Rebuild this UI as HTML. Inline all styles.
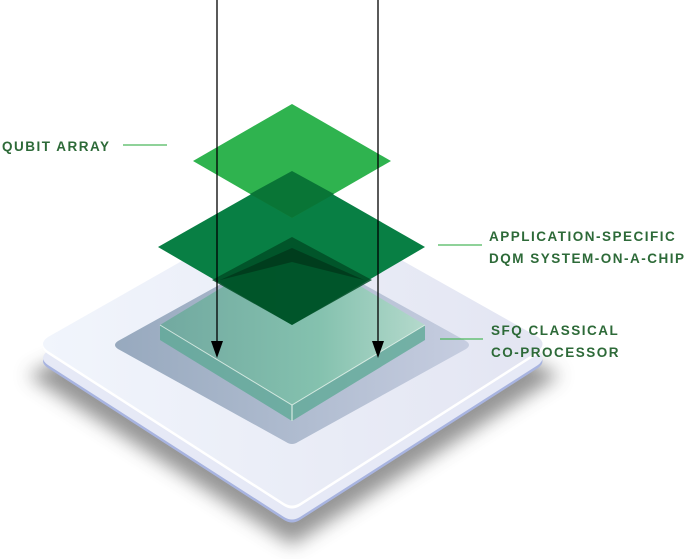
<!DOCTYPE html>
<html><head><meta charset="utf-8"><style>
html,body{margin:0;padding:0;background:#fff;}
svg{display:block;}
text{font-family:"Liberation Sans",sans-serif;font-weight:bold;fill:#2d6a38;font-size:13.5px;letter-spacing:1.5px;}
</style></head><body>
<svg width="696" height="559" viewBox="0 0 696 559" xmlns="http://www.w3.org/2000/svg">
<defs>
<filter id="blur" x="-20%" y="-20%" width="140%" height="140%"><feGaussianBlur stdDeviation="9"/></filter>
<linearGradient id="plate" x1="0" x2="1" y1="0" y2="0"><stop offset="0" stop-color="#f1f5fc"/><stop offset="1" stop-color="#e3e5f2"/></linearGradient>
<linearGradient id="rec" x1="0" x2="1"><stop offset="0" stop-color="#97a9be"/><stop offset="1" stop-color="#c6cde0"/></linearGradient>
<linearGradient id="sfq" x1="0" x2="1"><stop offset="0" stop-color="#6aa89a"/><stop offset="0.6" stop-color="#7cc2a8"/><stop offset="1" stop-color="#b2dcc9"/></linearGradient>
<path id="pl" d="M48 337 L284 203 Q292 198 300 203 L538 337 Q547 344 538 351 L300 503 Q292 508 284 503 L48 351 Q38 344 48 337 Z"/>
</defs>
<path d="M28 375 L292 545 L560 375 L292 250 Z" fill="#8a8a8a" filter="url(#blur)" opacity="0.9"/>
<use href="#pl" transform="translate(0,17)" fill="#a8b4e0"/>
<use href="#pl" transform="translate(0,14)" fill="#e6e9f6"/>
<use href="#pl" transform="translate(0,3)" fill="#ffffff"/>
<use href="#pl" fill="url(#plate)"/>
<path d="M118 341 L286 248 Q292 245 298 248 L466 341 Q472 345 466 349 L298 442 Q292 446 286 442 L118 349 Q112 345 118 341 Z" fill="url(#rec)"/>
<path d="M160 325 L160 340 L292 421 L425 340 L425 325 L292 405 Z" fill="#5aa893" opacity="0.75"/>
<path d="M160 325 L292 245 L425 325 L292 405 Z" fill="url(#sfq)" opacity="0.85"/>
<path d="M160 325 L292 405 L425 325" fill="none" stroke="#e8f5ee" stroke-width="1" opacity="0.8"/>
<path d="M292 405 L292 421" stroke="#e8f5ee" stroke-width="1"/>
<path d="M158 247 L292 171 L425 247 L292 325 Z" fill="#007b3e" opacity="0.97"/>
<path d="M212 280 L292 237 L372 280 L292 325 Z" fill="#004d26" opacity="0.85"/>
<path d="M220 280 L292 248 L364 280 L292 262 Z" fill="#002d16" opacity="0.6"/>
<path d="M193 161 L292 104 L391 161 L292 218 Z" fill="#2fb34f"/>
<path d="M250 194 L292 171 L334 194 L292 218 Z" fill="#006530" opacity="0.8"/>
<line x1="217" y1="0" x2="217" y2="345" stroke="#000" stroke-width="1.3"/>
<polygon points="211,341 223,341 217,358" fill="#000"/>
<line x1="378" y1="0" x2="378" y2="345" stroke="#000" stroke-width="1.3"/>
<polygon points="372,341 384,341 378,358" fill="#000"/>
<line x1="123" y1="145" x2="167" y2="145" stroke="#4cb85c" stroke-width="1.3"/>
<text x="2" y="151">QUBIT ARRAY</text>
<line x1="438" y1="245" x2="482" y2="245" stroke="#4cb85c" stroke-width="1.3"/>
<text x="489" y="241">APPLICATION-SPECIFIC</text>
<text x="489" y="263">DQM SYSTEM-ON-A-CHIP</text>
<line x1="440" y1="339" x2="483" y2="339" stroke="#4cb85c" stroke-width="1.3"/>
<text x="491" y="335">SFQ CLASSICAL</text>
<text x="491" y="357">CO-PROCESSOR</text>
</svg>
</body></html>
